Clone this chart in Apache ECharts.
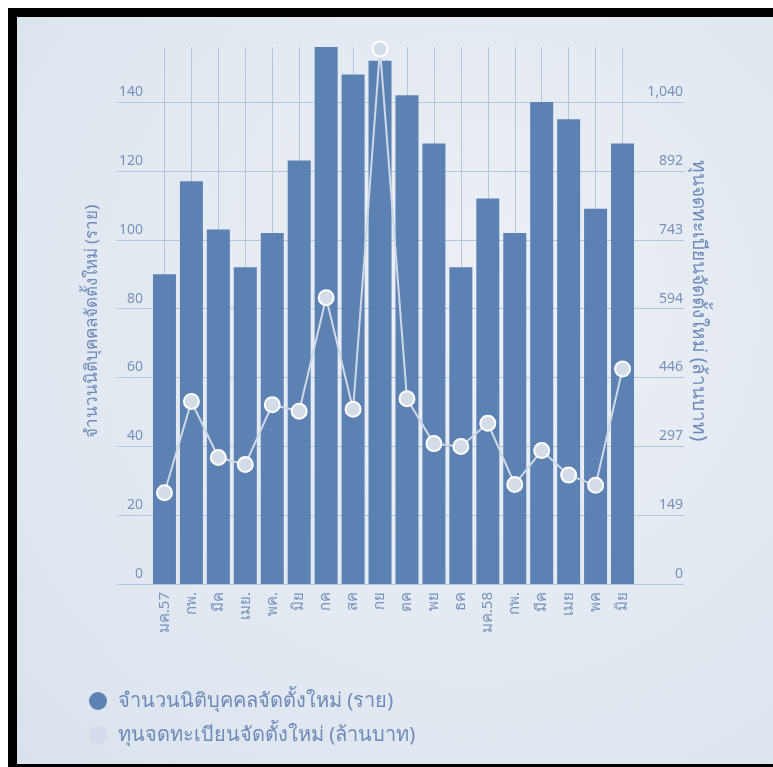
<!DOCTYPE html>
<html>
<head>
<meta charset="utf-8">
<script src="https://cdn.jsdelivr.net/npm/echarts@6/dist/echarts.min.js"></script>
<style>
  html, body { margin: 0; padding: 0; background: #ffffff; width: 773px; height: 767px; overflow: hidden; }
  #frame {
    position: absolute; left: 8px; top: 8px; width: 756px; height: 747px;
    border-left: 9px solid #000; border-top: 9px solid #000; border-bottom: 3px solid #000;
    background: radial-gradient(ellipse at 60% 40%, #edf1f6 0%, #e3e9f1 55%, #d9e2ec 100%);
  }
  #chart { position: absolute; left: 0; top: 0; width: 773px; height: 767px; }
</style>
</head>
<body>
<div id="frame"></div>
<div id="chart"></div>
<script>
const categories = ['มค.57','กพ.','มีค','เมย.','พค.','มิย','กค','สค','กย','ตค','พย','ธค','มค.58','กพ.','มีค','เมย','พค','มิย'];
const companies = [90,117,103,92,102,123,156,148,152,142,128,92,112,102,140,135,109,128];
const capital = [197,394,273,258,387,373,618,377,1155,400,303,297,347,215,288,235,213,464];
const leftTicks = [0,20,40,60,80,100,120,140];
const rightTickValues = [0,148.6,297.2,445.8,594.4,743,891.6,1040.2];
const rightTickLabels = ['0','149','297','446','594','743','892','1,040'];
const seriesNames = ['จำนวนนิติบุคคลจัดตั้งใหม่ (ราย)','ทุนจดทะเบียนจัดตั้งใหม่ (ล้านบาท)'];

const FONT = 'Tahoma, "Noto Sans", "DejaVu Sans", sans-serif';
const gridColor = '#b8c5d8';
const labelColor = '#7891bd';
const nameColor = '#6d8aba';

const chart = echarts.init(document.getElementById('chart'), null, {renderer: 'canvas'});
chart.setOption({
  backgroundColor: 'transparent',
  textStyle: { fontFamily: FONT },
  grid: { left: 151, right: 137, top: 47, bottom: 183, outerBoundsMode: 'none', containLabel: false },
  legend: {
    orient: 'vertical', left: 84, top: 686, itemGap: 14,
    itemWidth: 18, itemHeight: 18, icon: 'circle',
    textStyle: { fontSize: 20, color: nameColor, padding: [0,0,0,6], fontFamily: FONT },
    data: [
      { name: seriesNames[0], itemStyle: { color: '#5c81b3', borderWidth: 0 } },
      { name: seriesNames[1], itemStyle: { color: '#d3dce8', borderWidth: 0 } }
    ]
  },
  xAxis: {
    type: 'category', data: categories,
    axisLine: { show: false }, axisTick: { show: false },
    axisLabel: { interval: 0, rotate: 90, margin: 8, fontSize: 15, color: labelColor, fontFamily: FONT },
    splitLine: { show: true, interval: 0, alignWithLabel: true, lineStyle: { color: gridColor, width: 1 } }
  },
  yAxis: [{
    type: 'value', min: 0, max: 156, interval: 20,
    name: seriesNames[0], nameLocation: 'middle', nameRotate: 90, nameGap: 50, nameMoveOverlap: false,
    nameTextStyle: { fontSize: 17, color: nameColor, fontFamily: FONT, padding: [0, 12, 0, 0] },
    axisLine: { show: false },
    axisTick: { show: true, inside: false, length: 34, customValues: leftTicks, lineStyle: { color: gridColor } },
    axisLabel: { customValues: leftTicks, margin: 8, fontSize: 14, color: labelColor,
      verticalAlign: 'bottom', padding: [0,0,3,0], fontFamily: FONT },
    splitLine: { show: true, lineStyle: { color: [gridColor,gridColor,gridColor,gridColor,gridColor,gridColor,gridColor,gridColor,'rgba(0,0,0,0)'] } }
  }, {
    type: 'value', min: 0, max: 156 * 7.43, position: 'right',
    name: seriesNames[1], nameLocation: 'middle', nameRotate: -90, nameGap: 53, nameMoveOverlap: false,
    nameTextStyle: { fontSize: 19, color: nameColor, fontFamily: FONT, padding: [0, 30, 0, 0] },
    axisLine: { show: false },
    axisTick: { show: true, inside: false, length: 48, customValues: rightTickValues, lineStyle: { color: gridColor } },
    axisLabel: { customValues: rightTickValues, margin: 47, align: 'right', fontSize: 14, color: labelColor,
      verticalAlign: 'bottom', padding: [0,0,3,0], fontFamily: FONT,
      formatter: function (v) {
        let best = 0;
        rightTickValues.forEach((t, i) => { if (Math.abs(t - v) < Math.abs(rightTickValues[best] - v)) best = i; });
        return rightTickLabels[best];
      } },
    splitLine: { show: false }
  }],
  series: [{
    name: seriesNames[0], type: 'bar', data: companies, barWidth: 23,
    itemStyle: { color: '#5c81b3' }
  }, {
    name: seriesNames[1], type: 'line', yAxisIndex: 1, data: capital,
    symbol: 'circle', symbolSize: 15, clip: false, z: 5,
    lineStyle: { color: '#cfd9e6', width: 2 },
    itemStyle: { color: '#d4dce8', borderColor: '#ffffff', borderWidth: 2 }
  }],
  animation: false
});
</script>
</body>
</html>
